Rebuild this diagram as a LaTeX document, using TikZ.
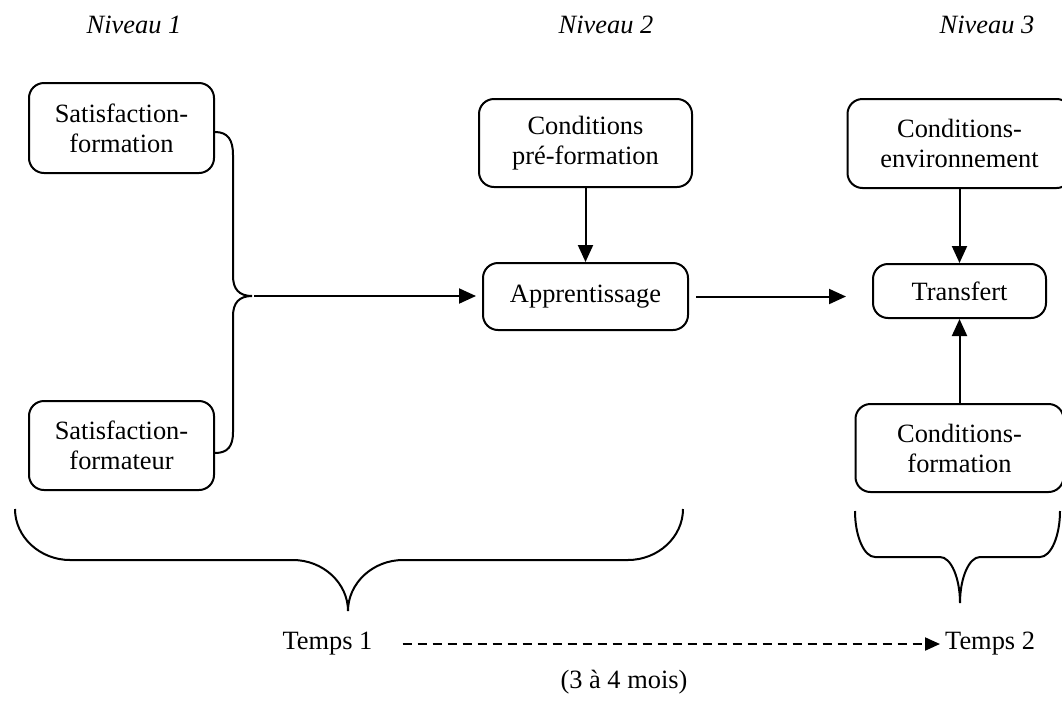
\documentclass[tikz,border=0pt]{standalone}
\usepackage{fontspec}
\setmainfont{Liberation Serif}
\usetikzlibrary{arrows.meta, positioning}

\begin{document}
\begin{tikzpicture}[x=1pt, y=-1pt,
    font=\fontsize{26.4}{30}\selectfont,
    bloc/.style={rectangle, rounded corners=15pt, draw=black, line width=2pt,
                 align=center, inner sep=0pt},
    niveau/.style={anchor=base, font=\fontsize{26.4}{30}\selectfont\itshape},
    temps/.style={inner sep=0pt},
    arrow/.style={-{Triangle[length=17pt, width=15pt]}, line width=2pt},
    dasharrow/.style={-{Triangle[length=15pt, width=13pt]}, line width=2pt,
                      dash pattern=on 9pt off 6pt},
    brace/.style={line width=2pt}
  ]
    \useasboundingbox (0,0) rectangle (1062,702);

    % niveaux
    \node[niveau] (niv1) at (134,33) {Niveau 1};
    \node[niveau] (niv2) at (606,33) {Niveau 2};
    \node[niveau] (niv3) at (987,33) {Niveau 3};

    % niveau 1
    \node[bloc, minimum width=185pt, minimum height=90pt] (satform) at (121.5,128) {Satisfaction-\\formation};
    \node[bloc, minimum width=185pt, minimum height=89pt] (satformat) at (121.5,445.5) {Satisfaction-\\formateur};

    % niveau 2
    \node[bloc, minimum width=205pt, minimum height=67pt] (appr) at (585.5,296.5) {Apprentissage};
    \node[bloc, minimum width=213pt, minimum height=88pt, above=74pt of appr] (condpre) {Conditions\\pré-formation};

    % niveau 3
    \node[bloc, minimum width=173pt, minimum height=54pt] (transf) at (959.5,291) {Transfert};
    \node[bloc, minimum width=224pt, minimum height=89pt, above=74pt of transf] (condenv) {Conditions-\\environnement};
    \node[bloc, minimum width=208pt, minimum height=88pt, below=84pt of transf] (condform) {Conditions-\\formation};

    % accolade niveau 1
    \coordinate (bracetip) at (252,296);
    \draw[brace] (satform.east |- 0,132) .. controls (228,132) and (233,140) .. (233,155)
        -- (233,276) .. controls (233,289) and (239,296) .. (bracetip)
        .. controls (239,296) and (233,303) .. (233,316)
        -- (233,432) .. controls (233,446) and (228,453) .. (satformat.east |- 0,453);

    \draw[arrow, shorten <=2pt, shorten >=6pt] (bracetip) -- (bracetip -| appr.west);
    \draw[arrow] (condpre) -- (appr);
    \draw[arrow, shorten <=7pt, shorten >=26pt] (appr) -- (appr -| transf.west);
    \draw[arrow] (condenv) -- (transf);
    \draw[arrow] (condform) -- (transf);

    % accolades temps
    \draw[brace] (15,509) .. controls (15,537) and (40,560) .. (70,560)
        -- (293,560) .. controls (323,560) and (348,583) .. (348,611)
        .. controls (348,583) and (373,560) .. (403,560)
        -- (628,560) .. controls (658,560) and (683,537) .. (683,509);
    \draw[brace] (855,511) .. controls (855,536) and (864,557) .. (875,557)
        -- (940,557) .. controls (951,557) and (960,578) .. (960,603)
        .. controls (960,578) and (969,557) .. (980,557)
        -- (1040,557) .. controls (1051,557) and (1060,536) .. (1060,511);

    % temps
    \node[temps] (t1) at (327.5,644) {Temps 1};
    \node[temps, inner xsep=5pt, anchor=west] (t2) at (940,644) {Temps 2};
    \draw[dasharrow, shorten <=30pt] (t1) -- (t2);
    \node[anchor=base] (mois) at (624,688) {(3 à 4 mois)};
  \end{tikzpicture}
\end{document}
